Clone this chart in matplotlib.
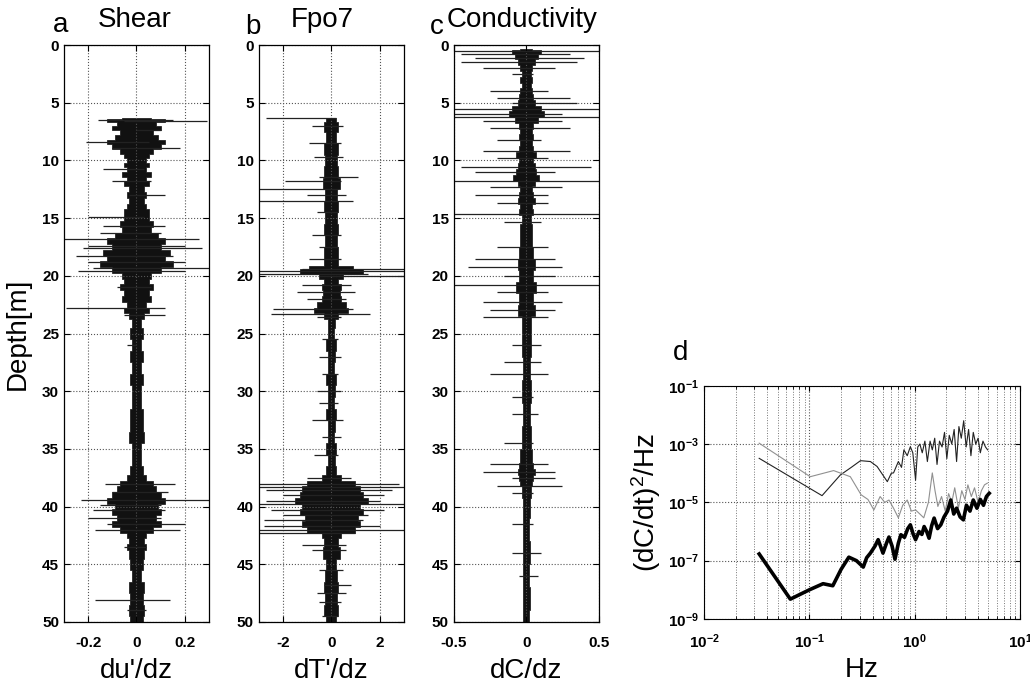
import matplotlib
matplotlib.use("Agg")
import matplotlib.pyplot as plt
from matplotlib.ticker import LogLocator, NullFormatter

plt.rcParams['font.family'] = ['Liberation Sans', 'DejaVu Sans']
plt.rcParams['mathtext.default'] = 'regular'

# ---- panel a: shear, core half-width of the dense trace vs depth
shear_depth = [6.3, 6.5, 6.8, 7.2, 7.6, 8.0, 8.4, 8.8, 9.2, 9.6, 10.0, 10.4, 10.8, 11.2, 11.6,
               12.0, 12.5, 13.0, 13.5, 14.0, 14.5, 15.0, 15.5, 16.0, 16.5, 17.0, 17.5, 18.0,
               18.5, 19.0, 19.5, 20.0, 20.5, 21.0, 21.5, 22.0, 22.5, 23.0, 23.5, 24.0, 25, 26,
               27, 28, 29, 30, 31, 32, 33, 34, 35, 36, 37, 37.5, 38.0, 38.5, 39.0, 39.5, 40.0,
               40.5, 41.0, 41.5, 42.0, 42.5, 43.0, 43.5, 44.0, 45, 46, 47, 48, 49, 50]
shear_core = [0.06, 0.12, 0.08, 0.10, 0.07, 0.09, 0.12, 0.10, 0.07, 0.05, 0.04, 0.05, 0.04, 0.06,
              0.04, 0.05, 0.03, 0.04, 0.03, 0.04, 0.05, 0.05, 0.07, 0.06, 0.09, 0.12, 0.10, 0.14,
              0.12, 0.15, 0.10, 0.06, 0.05, 0.07, 0.05, 0.06, 0.04, 0.05, 0.03, 0.02, 0.025, 0.02,
              0.025, 0.02, 0.025, 0.02, 0.02, 0.025, 0.025, 0.03, 0.02, 0.02, 0.025, 0.04, 0.07,
              0.08, 0.10, 0.12, 0.09, 0.10, 0.08, 0.10, 0.07, 0.04, 0.03, 0.04, 0.03, 0.025, 0.02,
              0.03, 0.025, 0.03, 0.025]
# isolated strokes: depth, left end, right end
shear_strokes = [(6.5, -0.16, 0.15), (6.6, -0.05, 0.29), (7.4, 0.0, 0.10), (8.4, -0.21, 0.05),
                 (8.9, -0.10, 0.18), (10.7, -0.14, 0.03), (11.8, -0.10, 0.06), (13.0, -0.03, 0.12),
                 (14.9, -0.20, 0.03), (15.7, -0.14, 0.12), (16.3, -0.15, 0.10), (16.8, -0.30, 0.26),
                 (17.4, -0.20, 0.20), (17.6, -0.22, 0.27), (18.3, -0.25, 0.15), (18.8, -0.20, 0.20),
                 (19.3, -0.18, 0.30), (19.6, -0.24, 0.20), (21.0, -0.08, 0.06), (22.8, -0.29, 0.12),
                 (23.4, -0.05, 0.12), (26.0, -0.04, 0.0), (38.0, -0.13, 0.16), (38.7, -0.10, 0.13),
                 (39.4, -0.23, 0.30), (39.9, -0.15, 0.10), (40.3, -0.18, 0.12), (41.0, -0.20, 0.10),
                 (41.5, -0.12, 0.20), (42.0, -0.17, 0.18), (43.5, -0.05, 0.04), (48.1, -0.17, 0.14),
                 (49.0, -0.04, 0.04)]

# ---- panel b: Fpo7 temperature gradient
fpo_depth = [6.3, 7, 8, 9, 10, 11, 12, 13, 14, 15, 16, 17, 18, 19, 19.3, 19.6, 20.0, 20.5, 21,
             21.5, 22, 22.5, 23, 23.5, 24, 25, 26, 27, 28, 29, 30, 31, 32, 33, 34, 35, 36, 37,
             37.5, 38, 38.5, 39, 39.5, 40, 40.5, 41, 41.5, 42, 42.5, 43, 44, 45, 46, 47, 48, 49, 50]
fpo_core = [0.2, 0.3, 0.2, 0.3, 0.25, 0.3, 0.35, 0.25, 0.3, 0.25, 0.3, 0.25, 0.3, 0.3, 0.9, 1.3,
            0.5, 0.3, 0.4, 0.35, 0.4, 0.6, 0.7, 0.3, 0.15, 0.12, 0.2, 0.15, 0.12, 0.2, 0.15, 0.12,
            0.2, 0.15, 0.12, 0.2, 0.15, 0.2, 0.4, 1.0, 1.2, 1.3, 1.5, 1.2, 1.3, 1.1, 1.2, 1.0, 0.4,
            0.3, 0.35, 0.2, 0.25, 0.3, 0.25, 0.3, 0.2]
fpo_strokes = [(6.3, -2.7, 0.2), (7.0, -0.8, 0.5), (8.5, -0.9, 0.4), (9.7, -0.7, 0.5),
               (11.4, -0.5, 1.1), (11.8, -1.9, 0.4), (12.5, -3.0, 0.3), (13.0, -1.0, 0.6),
               (13.5, -3.0, 0.9), (14.5, -0.6, 0.3), (16.5, -0.8, 0.4), (17.5, -0.5, 0.3),
               (18.5, -0.9, 0.4), (19.4, -1.2, 3.0), (19.6, -3.0, 3.0), (19.8, -3.0, 1.5),
               (20.0, -0.5, 3.0), (20.8, -1.2, 0.8), (21.4, -1.4, 1.0), (22.0, -1.0, 0.6),
               (22.9, -2.4, 0.9), (23.3, -2.5, 1.6), (23.6, -0.6, 0.4), (25.5, -0.4, 0.3),
               (27.0, -0.5, 0.4), (28.5, -0.4, 0.3), (30.0, -0.6, 0.4), (31.0, -0.5, 0.3),
               (32.5, -0.8, 0.5), (34.0, -0.4, 0.4), (35.5, -0.7, 0.3), (37.5, -1.0, 0.8),
               (38.0, -3.0, 2.8), (38.3, -3.0, 3.0), (38.6, -2.7, 2.5), (39.0, -2.0, 2.2),
               (39.5, -2.7, 2.0), (39.8, -3.0, 3.0), (40.3, -2.5, 2.2), (40.7, -2.0, 1.5),
               (41.2, -2.8, 1.3), (41.7, -2.8, 2.0), (42.0, -3.0, 3.0), (42.3, -3.0, 1.0),
               (43.3, -1.2, 0.6), (43.8, -0.8, 0.6), (45.5, -0.5, 0.5), (46.8, -0.3, 0.8),
               (47.5, -0.6, 0.6), (48.3, -0.5, 0.4), (49.5, -0.4, 0.3)]

# ---- panel c: conductivity gradient
cond_depth = [0.3, 0.6, 1.0, 1.5, 2, 2.5, 3, 3.5, 4, 4.5, 5, 5.5, 6, 6.5, 7, 7.5, 8, 8.5, 9, 9.5,
              10, 10.5, 11, 11.5, 12, 12.5, 13, 13.5, 14, 14.5, 15, 16, 17, 18, 19, 20, 21, 22,
              23, 24, 26, 28, 30, 32, 34, 36, 36.5, 37, 37.5, 38, 38.5, 40, 42, 44, 46, 48, 50]
cond_core = [0.04, 0.10, 0.08, 0.06, 0.04, 0.03, 0.04, 0.03, 0.04, 0.05, 0.06, 0.10, 0.12, 0.08,
             0.05, 0.04, 0.05, 0.04, 0.05, 0.07, 0.05, 0.06, 0.07, 0.09, 0.06, 0.04, 0.05, 0.06,
             0.04, 0.05, 0.03, 0.04, 0.04, 0.05, 0.06, 0.05, 0.07, 0.05, 0.06, 0.03, 0.03, 0.025,
             0.03, 0.025, 0.03, 0.04, 0.05, 0.06, 0.05, 0.04, 0.03, 0.025, 0.02, 0.025, 0.02,
             0.025, 0.02]
cond_strokes = [(0.5, -0.5, 0.5), (0.8, -0.45, 0.3), (1.1, -0.35, 0.4), (1.5, -0.45, 0.35),
                (2.0, -0.3, 0.2), (2.5, -0.1, 0.05), (4.0, -0.25, 0.15), (4.6, -0.2, 0.3),
                (5.0, -0.1, 0.35), (5.5, -0.5, 0.5), (6.0, -0.5, 0.25), (6.2, -0.5, 0.5),
                (6.6, -0.3, 0.25), (7.2, -0.25, 0.3), (8.2, -0.2, 0.1), (9.2, -0.3, 0.3),
                (9.8, -0.2, 0.15), (10.6, -0.45, 0.45), (11.0, -0.35, 0.2), (11.8, -0.5, 0.5),
                (12.3, -0.25, 0.25), (13.0, -0.35, 0.15), (13.7, -0.2, 0.15), (14.6, -0.5, 0.5),
                (15.3, -0.15, 0.1), (17.5, -0.2, 0.15), (18.5, -0.35, 0.2), (19.2, -0.4, 0.25),
                (20.0, -0.15, 0.2), (20.8, -0.5, 0.5), (21.4, -0.2, 0.15), (22.3, -0.3, 0.25),
                (23.0, -0.25, 0.2), (23.6, -0.3, 0.15), (26.0, -0.1, 0.1), (27.5, -0.15, 0.1),
                (28.5, -0.25, 0.15), (30.5, -0.1, 0.05), (32.0, -0.1, 0.08), (34.5, -0.15, 0.05),
                (36.3, -0.25, 0.15), (37.0, -0.3, 0.2), (37.5, -0.1, 0.2), (38.2, -0.2, 0.25),
                (38.8, -0.1, 0.05), (41.5, -0.1, 0.05), (44.0, -0.1, 0.1), (46.0, -0.05, 0.08)]

# ---- panel d: spectra (frequency in Hz, log10 of power)
hi_freq = [0.0334, 0.132, 0.197, 0.25, 0.306, 0.38, 0.44, 0.55, 0.6, 0.63, 0.7, 0.75, 0.79, 0.85,
           0.91, 0.96, 1.02, 1.07, 1.12, 1.18, 1.25, 1.32, 1.4, 1.47, 1.55, 1.63, 1.72, 1.82, 1.92,
           2.02, 2.13, 2.25, 2.37, 2.5, 2.63, 2.77, 2.92, 3.08, 3.25, 3.42, 3.6, 3.8, 4.0, 4.2,
           4.45, 4.7, 4.93]
hi_logp = [-3.49, -4.77, -4.06, -3.8, -3.57, -3.60, -3.77, -4.29, -4.0, -3.99, -3.6, -3.8, -3.2,
           -3.4, -3.09, -3.3, -4.23, -3.1, -3.0, -3.3, -2.9, -3.6, -2.9, -3.2, -2.8, -3.7, -2.9,
           -3.1, -2.6, -3.5, -2.7, -3.0, -2.5, -3.6, -2.4, -2.8, -2.2, -3.1, -2.5, -3.4, -2.6,
           -3.0, -2.8, -3.3, -2.9, -3.1, -3.2]
mid_freq = [0.0334, 0.102, 0.17, 0.245, 0.31, 0.36, 0.41, 0.47, 0.52, 0.57, 0.63, 0.70, 0.77,
            0.85, 0.93, 1.02, 1.12, 1.22, 1.35, 1.47, 1.56, 1.66, 1.8, 1.95, 2.1, 2.25, 2.4, 2.6,
            2.8, 3.0, 3.2, 3.45, 3.7, 4.0, 4.3, 4.6, 4.9]
mid_logp = [-2.97, -4.12, -3.91, -4.12, -4.74, -4.9, -5.26, -4.8, -5.0, -4.92, -5.2, -5.53, -5.1,
            -4.92, -5.3, -5.26, -5.4, -5.53, -5.0, -3.99, -4.6, -5.14, -4.8, -5.3, -4.7, -5.0,
            -4.5, -5.2, -4.6, -4.9, -4.4, -4.8, -4.5, -5.0, -4.6, -4.4, -4.34]
lo_freq = [0.0334, 0.066, 0.1, 0.135, 0.167, 0.2, 0.237, 0.28, 0.325, 0.35, 0.38, 0.42, 0.45,
           0.50, 0.54, 0.57, 0.61, 0.65, 0.70, 0.74, 0.80, 0.86, 0.91, 0.97, 1.02, 1.1, 1.17,
           1.23, 1.3, 1.37, 1.45, 1.53, 1.65, 1.77, 1.9, 2.05, 2.2, 2.35, 2.5, 2.7, 2.9, 3.1,
           3.35, 3.6, 3.9, 4.2, 4.5, 4.8, 5.1]
lo_logp = [-6.77, -8.32, -8.0, -7.79, -7.86, -7.3, -6.88, -7.0, -7.22, -6.9, -6.74, -6.5, -6.28,
           -6.74, -6.4, -6.19, -6.5, -6.95, -6.4, -6.11, -6.2, -5.9, -5.77, -6.1, -6.28, -6.0,
           -6.1, -5.83, -6.0, -6.23, -5.8, -5.54, -5.9, -5.77, -5.5, -5.3, -4.92, -5.4, -5.2,
           -5.5, -5.6, -5.1, -5.3, -4.92, -5.2, -4.9, -5.1, -4.8, -4.69]

fig = plt.figure(figsize=(10.3, 6.86), dpi=100)

profiles = [
    (0.0621, shear_depth, shear_core, shear_strokes, 0.3, [-0.2, 0, 0.2], ['-0.2', '0', '0.2'], "du'/dz"),
    (0.2512, fpo_depth, fpo_core, fpo_strokes, 3.0, [-2, 0, 2], ['-2', '0', '2'], "dT'/dz"),
    (0.4405, cond_depth, cond_core, cond_strokes, 0.5, [-0.5, 0, 0.5], ['-0.5', '0', '0.5'], "dC/dz"),
]
for left, dep, core, strokes, xmax, xticks, xticklabels, xlab in profiles:
    ax = fig.add_axes([left, 0.0933, 0.1408, 0.841])
    neg = [-c for c in core]
    ax.fill_betweenx(dep, neg, core, step='mid', color='#111111', lw=0.5, edgecolor='#111111')
    for d, lo, hi in strokes:
        ax.hlines(d, lo, hi, color='#222222', lw=0.9)
    ax.set_xlim(-xmax, xmax)
    ax.set_ylim(50, 0)
    ax.set_xticks(xticks)
    ax.set_yticks(range(0, 51, 5))
    ax.set_xticklabels(xticklabels)
    ax.grid(True, linestyle=':', color='#555555', lw=0.8)
    ax.tick_params(direction='in', top=True, right=True, labelsize=11, length=4)
    ax.tick_params(axis='x', pad=10)
    for lab in ax.get_xticklabels() + ax.get_yticklabels():
        lab.set_fontweight('bold')
    ax.set_xlabel(xlab, fontsize=20, labelpad=6)
    for s in ax.spines.values():
        s.set_linewidth(0.9)
    if left < 0.1:
        ax.set_ylabel("Depth[m]", fontsize=20, labelpad=8)

fig.text(61 / 1030, 1 - 25 / 686, "a", fontsize=20, ha='center', va='center')
fig.text(135 / 1030, 1 - 20 / 686, "Shear", fontsize=20, ha='center', va='center')
fig.text(253 / 1030, 1 - 27 / 686, "b", fontsize=20, ha='center', va='center')
fig.text(322 / 1030, 1 - 20 / 686, "Fpo7", fontsize=20, ha='center', va='center')
fig.text(437 / 1030, 1 - 27 / 686, "c", fontsize=20, ha='center', va='center')
fig.text(522 / 1030, 1 - 20 / 686, "Conductivity", fontsize=20, ha='center', va='center')

# spectrum panel
axd = fig.add_axes([0.6835, 0.0977, 0.3068, 0.340])
axd.plot(hi_freq, [10 ** v for v in hi_logp], color='#222222', lw=0.8)
axd.plot(mid_freq, [10 ** v for v in mid_logp], color='#909090', lw=0.8)
axd.plot(lo_freq, [10 ** v for v in lo_logp], color='black', lw=2.6)
axd.set_xscale('log')
axd.set_yscale('log')
axd.set_xlim(1e-2, 1e1)
axd.set_ylim(1e-9, 1e-1)
axd.set_yticks([1e-9, 1e-7, 1e-5, 1e-3, 1e-1])
axd.yaxis.set_minor_locator(LogLocator(base=10, subs=[]))
axd.yaxis.set_minor_formatter(NullFormatter())
axd.xaxis.set_minor_locator(LogLocator(base=10, subs=[2, 3, 4, 5, 6, 7, 8, 9]))
axd.xaxis.set_minor_formatter(NullFormatter())
axd.grid(True, which='major', linestyle=':', color='#555555', lw=0.8)
axd.grid(True, which='minor', axis='x', linestyle=':', color='#777777', lw=0.7)
axd.tick_params(which='both', direction='in', top=True, right=True, labelsize=11)
axd.tick_params(axis='x', pad=10)
for lab in axd.get_xticklabels() + axd.get_yticklabels():
    lab.set_fontweight('bold')
axd.set_xlabel("Hz", fontsize=20, labelpad=4)
axd.set_ylabel("(dC/dt)$^2$/Hz", fontsize=20, labelpad=4)
fig.text(681 / 1030, 1 - 353 / 686, "d", fontsize=20, ha='center', va='center')

plt.savefig("out.png", dpi=100)
